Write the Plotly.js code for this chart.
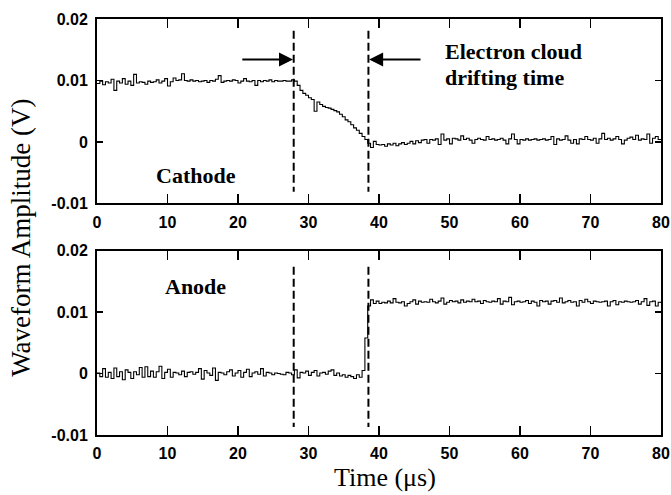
<!DOCTYPE html>
<html>
<head>
<meta charset="utf-8">
<script src="https://cdn.plot.ly/plotly-3.0.1.min.js"></script>
<style>html,body{margin:0;padding:0;background:#fff;}#chart{width:671px;height:495px;}</style>
</head>
<body>
<div id="chart"></div>
<script>
const sampleStep = 0.4;

// Cathode waveform (mV), one value per 0.4 µs from 0 to 80 µs
const cathode_mV = [
  9.5, 9.9, 9.3, 9.8, 9.6, 10.2, 8.4, 9.9, 9.6, 10.3,
  9.4, 9.9, 9.2, 11.0, 9.6, 9.8, 9.7, 9.4, 9.9, 9.7,
  9.8, 10.1, 9.6, 9.9, 10.3, 9.1, 9.8, 10.4, 10.0, 10.1,
  11.1, 10.0, 9.9, 10.1, 9.9, 10.0, 9.8, 9.9, 10.0, 9.7,
  10.0, 9.9, 10.2, 10.8, 9.7, 9.9, 10.0, 9.9, 10.1, 10.0,
  9.6, 9.9, 10.3, 9.9, 9.8, 10.0, 9.2, 10.0, 9.8, 10.0,
  9.9, 10.1, 9.8, 10.0, 9.9, 9.9, 10.0, 9.9, 9.9, 10.1,
  9.9, 9.2, 8.4, 7.9, 7.6, 7.2, 6.9, 5.0, 6.5, 6.1,
  5.8, 5.6, 5.5, 5.3, 5.1, 4.9, 4.5, 4.1, 3.6, 3.3,
  2.8, 2.3, 1.9, 1.4, 0.9, 0.4, -0.2, -0.9, 0.1, -0.4,
  -0.5, -0.4, -0.7, -0.3, -0.5, -0.2, -0.6, -0.3, -0.1, -0.4,
  -0.2, 0.1, -0.3, 0.2, -0.1, 0.3, 0.4, -0.2, 0.4, 0.3,
  0.5, -0.4, 1.3, 0.3, 0.5, -0.3, 0.6, 0.5, 0.3, 1.0,
  0.4, 0.6, 0.3, -0.2, 0.4, 0.6, 0.4, 0.3, 0.9, 0.4,
  0.5, 0.3, 0.4, 0.6, 0.3, -0.3, 0.5, 1.3, 0.4, -0.3,
  0.4, 0.3, 0.5, 0.3, 0.4, 0.5, 0.3, 0.4, 0.5, 0.3,
  0.4, 0.9, -0.4, 0.5, 0.3, 0.4, 1.0, 0.3, -0.2, 0.4,
  -0.3, 0.5, 0.4, 0.9, 0.4, 0.3, 0.6, -0.2, 0.5, 1.4,
  0.4, 0.6, 0.3, 0.5, 0.9, 0.4, -0.3, 0.3, 0.6, 0.8,
  0.4, 1.1, 0.3, 0.5, 0.4, 1.3, -0.2, 0.6, 0.9, 0.4,
  0.5
];

// Anode waveform (mV), same sampling
const anode_mV = [
  0.1, -0.5, 0.8, -0.6, 0.2, -0.8, 0.9, -0.5, 0.3, -1.0,
  0.6, 0.2, -0.8, 0.3, -0.2, 1.0, -0.6, 1.1, -0.5, 0.4,
  -0.6, 0.3, 1.2, -0.8, 0.2, 0.7, -0.6, 0.2, 0.1, -0.2,
  0.4, -0.5, 0.2, 0.3, -0.1, 0.2, 0.8, -0.9, 0.5, 0.1,
  -0.3, 0.9, -1.1, 0.2, 0.1, -0.2, 0.3, 0.6, -0.4, 0.1,
  0.5, -0.6, 0.2, 0.7, -0.5, 0.1, 0.3, -0.1, 0.8, -0.4,
  0.2, 0.1, -0.2, 0.1, 0.0, -0.1, -0.2, 0.2, 0.1, -0.2,
  0.6, -0.7, 0.2, 0.1, 0.4, -0.3, 0.2, 0.5, -0.4, 0.1,
  0.2, -0.1, 0.4, 0.6, -0.3, 0.1, -0.4, -0.2, -0.6, -0.3,
  -0.5, -0.8, -0.2, -0.6, 0.5, 5.8, 11.0, 12.0, 11.4, 11.8,
  11.4, 11.6, 11.5, 11.8, 11.5, 12.2, 11.6, 11.5, 11.7, 11.0,
  11.4, 11.7, 12.0, 11.3, 11.8, 11.6, 11.7, 11.6, 12.1, 11.7,
  11.5, 11.8, 12.3, 11.3, 11.6, 11.9, 11.7, 11.8, 11.5, 12.0,
  11.6, 11.8, 11.7, 12.1, 11.7, 11.8, 11.4, 11.9, 11.7, 11.6,
  11.8, 11.7, 12.2, 11.3, 11.8, 11.7, 12.4, 11.2, 11.7, 11.8,
  11.6, 11.7, 11.9, 11.4, 11.8, 11.6, 11.0, 11.9, 11.7, 11.8,
  11.3, 11.8, 11.9, 11.6, 12.3, 11.5, 11.7, 11.9, 11.6, 11.7,
  11.0, 11.9, 11.6, 12.1, 11.7, 11.4, 11.8, 11.7, 11.6, 11.7,
  11.8, 11.0, 11.7, 11.9, 11.2, 11.7, 11.6, 11.8, 11.7, 11.6,
  11.7, 11.9, 11.3, 11.7, 12.2, 11.1, 11.7, 11.8, 11.0, 11.6,
  11.5
];

// Drift-time markers (µs) and their vertical extents (V)
const markerTimes = [27.9, 38.5];
const cathodeMarkerSpan = [0.0181, -0.0081];
const anodeMarkerSpan = [0.0174, -0.0087];

// Axis ticks
const xTickVals = [0, 10, 20, 30, 40, 50, 60, 70, 80];
const yTickVals = [-0.01, 0, 0.01, 0.02];
const yTickText = ["-0.01", "0", "0.01", "0.02"];

// Arrow annotation: [from x, to x, at y]
const arrowRight = [20.4, 27.8, 0.0134];
const arrowLeft = [46.1, 38.6, 0.0134];

const time = cathode_mV.map((_, i) => +(i * sampleStep).toFixed(2));
const cathodeV = cathode_mV.map(v => v / 1000);
const anodeV = anode_mV.map(v => v / 1000);

const traceLine = {color: '#000', width: 1.1, shape: 'hv'};
const dashLine = {color: '#000', width: 2, dash: '8px,4px'};

const traces = [
  {x: time, y: cathodeV, xaxis: 'x', yaxis: 'y', mode: 'lines', line: traceLine, hoverinfo: 'skip'},
  {x: time, y: anodeV, xaxis: 'x2', yaxis: 'y2', mode: 'lines', line: traceLine, hoverinfo: 'skip'}
];
markerTimes.forEach(t => {
  traces.push({x: [t, t], y: cathodeMarkerSpan, xaxis: 'x', yaxis: 'y', mode: 'lines', line: dashLine, hoverinfo: 'skip'});
  traces.push({x: [t, t], y: anodeMarkerSpan, xaxis: 'x2', yaxis: 'y2', mode: 'lines', line: dashLine, hoverinfo: 'skip'});
});

const tickFont = {family: '"Liberation Sans", Arial, sans-serif', size: 16, color: '#000', weight: 'bold'};
const serif = '"Liberation Serif", "Times New Roman", serif';

function xAx(anchor) {
  return {
    anchor: anchor, range: [0, 80], tickvals: xTickVals, ticks: 'inside', ticklen: 9, tickwidth: 1.5,
    tickcolor: '#000', showline: true, linecolor: '#000', linewidth: 2, mirror: 'allticks',
    showgrid: false, zeroline: false, tickfont: tickFont, ticklabelstandoff: 3
  };
}
function yAx(anchor, domain) {
  return {
    anchor: anchor, domain: domain, range: [-0.01, 0.02], tickvals: yTickVals, ticktext: yTickText,
    ticks: 'inside', ticklen: 6, tickwidth: 1.5, tickcolor: '#000', showline: true, linecolor: '#000',
    linewidth: 2, mirror: 'allticks', showgrid: false, zeroline: false, tickfont: tickFont, ticklabelstandoff: 4
  };
}

const annFont = {family: serif, size: 22, color: '#000', weight: 'bold'};

const layout = {
  width: 671, height: 495,
  margin: {l: 97, r: 10, t: 19, b: 60},
  paper_bgcolor: '#fff', plot_bgcolor: '#fff',
  showlegend: false,
  xaxis: xAx('y'),
  yaxis: yAx('x', [0.5565, 1]),
  xaxis2: xAx('y2'),
  yaxis2: yAx('x2', [0, 0.443]),
  annotations: [
    {xref: 'x', yref: 'y', x: 14, y: -0.0055, text: 'Cathode', showarrow: false, font: annFont},
    {xref: 'x2', yref: 'y2', x: 14, y: 0.0142, text: 'Anode', showarrow: false, font: annFont},
    {xref: 'x', yref: 'y', x: 49.1, y: 0.0147, text: 'Electron cloud', showarrow: false, xanchor: 'left', font: annFont},
    {xref: 'x', yref: 'y', x: 49.1, y: 0.0105, text: 'drifting time', showarrow: false, xanchor: 'left', font: annFont},
    {xref: 'x', yref: 'y', axref: 'x', ayref: 'y', x: arrowRight[1], y: arrowRight[2], ax: arrowRight[0], ay: arrowRight[2],
     text: '', showarrow: true, arrowhead: 2, arrowsize: 1.4, arrowwidth: 2, arrowcolor: '#000', standoff: 0, startstandoff: 0},
    {xref: 'x', yref: 'y', axref: 'x', ayref: 'y', x: arrowLeft[1], y: arrowLeft[2], ax: arrowLeft[0], ay: arrowLeft[2],
     text: '', showarrow: true, arrowhead: 2, arrowsize: 1.4, arrowwidth: 2, arrowcolor: '#000', standoff: 0, startstandoff: 0},
    {xref: 'paper', yref: 'paper', x: -0.135, y: 0.4736, xanchor: 'center', yanchor: 'middle', textangle: -90,
     text: 'Waveform Amplitude (V)', showarrow: false, font: {family: serif, size: 27, color: '#000'}},
    {xref: 'paper', yref: 'paper', x: 0.51, y: -0.1405, xanchor: 'center', yanchor: 'bottom',
     text: 'Time (μs)', showarrow: false, borderpad: 0, font: {family: serif, size: 26, color: '#000'}}
  ]
};

Plotly.newPlot('chart', traces, layout, {staticPlot: true, displayModeBar: false});
</script>
</body>
</html>
